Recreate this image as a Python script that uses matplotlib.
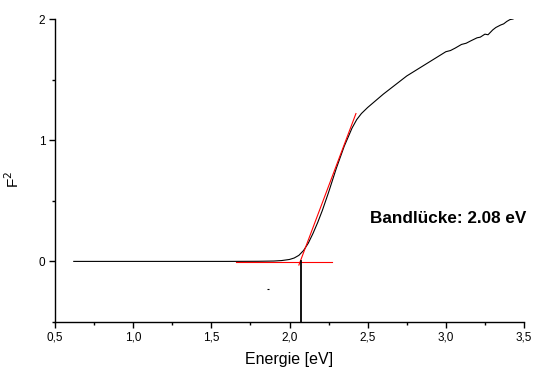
import matplotlib
matplotlib.use("Agg")
import matplotlib.pyplot as plt
from matplotlib.ticker import MultipleLocator, FuncFormatter

plt.rcParams['font.family'] = ['Liberation Sans', 'DejaVu Sans']

# measured spectrum (F^2 vs energy)
energy = [0.62, 0.8, 1.0, 1.2, 1.4, 1.6, 1.8, 1.9, 1.95, 2.0, 2.03, 2.06, 2.09, 2.12,
          2.15, 2.18, 2.21, 2.25, 2.3, 2.35, 2.4, 2.43, 2.46, 2.5, 2.55, 2.6, 2.65,
          2.7, 2.75, 2.8, 2.85, 2.9, 2.95, 3.0, 3.03, 3.06, 3.1, 3.13, 3.16, 3.2,
          3.22, 3.25, 3.27, 3.3, 3.32, 3.35, 3.37, 3.39, 3.41, 3.43]
f2 = [0.0, 0.0, 0.0, 0.0, 0.0, 0.0, 0.001, 0.003, 0.007, 0.016, 0.028, 0.05, 0.09, 0.15,
      0.23, 0.32, 0.42, 0.57, 0.77, 0.95, 1.10, 1.17, 1.22, 1.27, 1.325, 1.38, 1.43,
      1.48, 1.53, 1.57, 1.61, 1.65, 1.69, 1.73, 1.74, 1.76, 1.79, 1.80, 1.82, 1.845,
      1.85, 1.875, 1.87, 1.91, 1.93, 1.95, 1.96, 1.98, 1.995, 2.0]

# tangent lines
tangent_x = [2.06, 2.425]
tangent_y = [-0.03, 1.22]
baseline_x = [1.66, 2.27]
baseline_y = [-0.008, -0.008]

# band gap marker
gap = 2.072
gap_line_y = [0.0, -0.5]
dot_x = [1.86]
dot_y = [-0.23]

W, H = 533, 372
fig = plt.figure(figsize=(W/100, H/100), dpi=100)
ax = fig.add_axes([55/W, 1-322/H, (524-55)/W, (322-19)/H])

ax.plot(energy, f2, color='black', lw=0.8)
ax.plot(tangent_x, tangent_y, color='red', lw=0.8)
ax.plot(baseline_x, baseline_y, color='red', lw=0.8)
ax.plot([gap, gap], gap_line_y, color='black', lw=1.3)
ax.plot(dot_x, dot_y, marker='_', ms=2, mew=0.8, color='black', ls='none')

ax.set_xlim(0.5, 3.5)
ax.set_ylim(-0.5, 2)
for s in ['top', 'right']:
    ax.spines[s].set_visible(False)
ax.spines['left'].set_linewidth(1)
ax.spines['bottom'].set_linewidth(1)

ax.xaxis.set_major_locator(MultipleLocator(0.5))
ax.xaxis.set_minor_locator(MultipleLocator(0.25))
ax.yaxis.set_major_locator(MultipleLocator(1))
ax.yaxis.set_minor_locator(MultipleLocator(0.5))
ax.xaxis.set_major_formatter(FuncFormatter(lambda v, p: f"{v:.1f}".replace('.', ',')))
ax.yaxis.set_major_formatter(FuncFormatter(lambda v, p: f"{v:.0f}"))
ax.tick_params(which='major', direction='out', length=4, width=1, labelsize=8.5, pad=3)
ax.tick_params(which='minor', direction='out', length=2.5, width=1)

ax.set_xlabel('Energie [eV]', fontsize=11.5, labelpad=6)
ax.set_ylabel('F$^2$', fontsize=11)
ax.yaxis.set_label_coords(-0.07, 0.47)

ax.text(2.515, 0.355, 'Bandlücke: 2.08 eV', fontsize=12.3, fontweight='bold', va='center', ha='left')

fig.savefig('out.png', dpi=100)
